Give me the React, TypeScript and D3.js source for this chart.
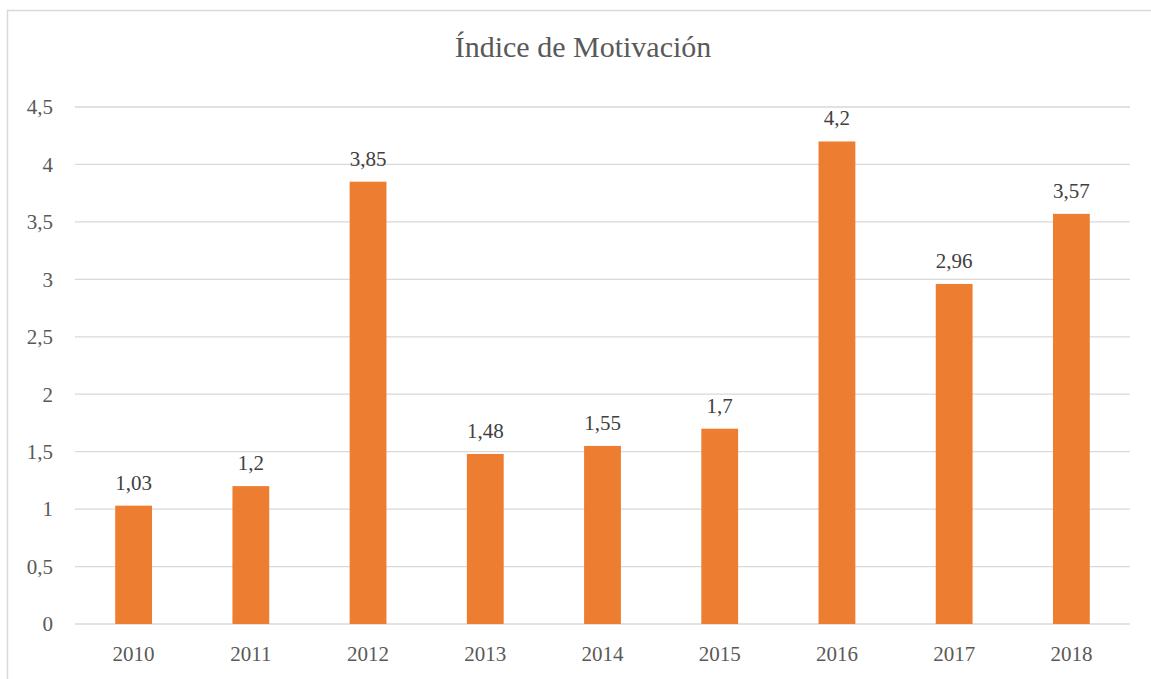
import * as d3 from "d3";

const width = 1151;
const height = 679;

const years = ["2010", "2011", "2012", "2013", "2014", "2015", "2016", "2017", "2018"];
const values = [1.03, 1.2, 3.85, 1.48, 1.55, 1.7, 4.2, 2.96, 3.57];
const yTicks = [0, 0.5, 1, 1.5, 2, 2.5, 3, 3.5, 4, 4.5];

const title = "Índice de Motivación";
const font = '"Liberation Serif", "Times New Roman", Times, "DejaVu Serif", serif';
const textColor = "#595959";
const gridColor = "#d9d9d9";
const barColor = "#ed7d31";

const margin = { left: 75, right: 21, top: 107, bottom: 55 };

// decimal comma like the spanish original
const fmt = (v: number) => String(v).replace(".", ",");

export default function App() {
  const x = d3
    .scaleBand()
    .domain(years)
    .range([margin.left, width - margin.right])
    .paddingInner(0.686)
    .paddingOuter(0.343);

  const y = d3
    .scaleLinear()
    .domain([0, 4.5])
    .range([height - margin.bottom, margin.top]);

  return (
    <svg
      width={width}
      height={height}
      style={{ position: "absolute", left: 0, top: 0, background: "white", fontFamily: font }}
    >
      <rect x={7.5} y={10.5} width={width} height={height} fill="white" stroke={gridColor} strokeWidth={1.5} />

      <text x={583} y={57} textAnchor="middle" fontSize={30} fill={textColor}>
        {title}
      </text>

      {yTicks.map((t) => (
        <g key={t}>
          <line
            x1={margin.left}
            x2={width - margin.right}
            y1={y(t)}
            y2={y(t)}
            stroke={gridColor}
            strokeWidth={1.3}
          />
          <text
            x={53}
            y={y(t)}
            dy="0.35em"
            textAnchor="end"
            fontSize={21}
            fill={textColor}
          >
            {fmt(t)}
          </text>
        </g>
      ))}

      {years.map((yr, i) => (
        <g key={yr}>
          <rect
            x={x(yr)}
            y={y(values[i])}
            width={x.bandwidth()}
            height={y(0) - y(values[i])}
            fill={barColor}
          />
          <text
            x={(x(yr) ?? 0) + x.bandwidth() / 2}
            y={y(values[i]) - 16}
            textAnchor="middle"
            fontSize={21}
            fill="#404040"
          >
            {fmt(values[i])}
          </text>
          <text
            x={(x(yr) ?? 0) + x.bandwidth() / 2}
            y={661}
            textAnchor="middle"
            fontSize={21}
            fill={textColor}
          >
            {yr}
          </text>
        </g>
      ))}
    </svg>
  );
}
